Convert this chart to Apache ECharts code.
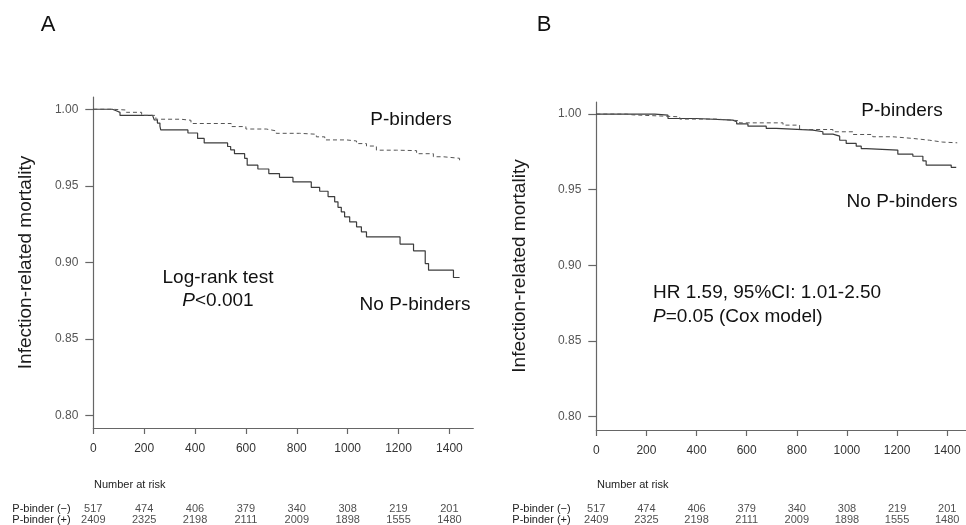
<!DOCTYPE html>
<html>
<head>
<meta charset="utf-8">
<script src="https://cdn.jsdelivr.net/npm/echarts@6/dist/echarts.min.js"></script>
<style>
  html, body { margin: 0; padding: 0; background: #fff; }
  #chart { width: 966px; height: 525px; }
</style>
</head>
<body>
<div id="chart"></div>
<script>
const FONT = '"Liberation Sans", Arial, sans-serif'

// axis ticks
const timeTicks = [0, 200, 400, 600, 800, 1000, 1200, 1400]
const survivalTicks = [0.80, 0.85, 0.90, 0.95, 1.00]

// number at risk
const riskGroups = ['P-binder (−)', 'P-binder (+)']
const atRiskNeg = [517, 474, 406, 379, 340, 308, 219, 201]
const atRiskPos = [2409, 2325, 2198, 2111, 2009, 1898, 1555, 1480]

// panel A: unadjusted Kaplan-Meier (time in days, survival)
const aNoBinders = [
  [0, 1.0], [75, 0.999], [90, 0.998], [105, 0.996], [233, 0.995], [240, 0.993],
  [252, 0.991], [262, 0.989], [265, 0.9865], [372, 0.9845], [410, 0.981], [436, 0.978],
  [528, 0.9757], [540, 0.9735], [555, 0.971], [595, 0.968], [605, 0.9635], [647, 0.961],
  [690, 0.958], [732, 0.9555], [785, 0.9526], [857, 0.949], [890, 0.9465], [923, 0.943],
  [949, 0.9396], [962, 0.936], [975, 0.933], [988, 0.9298], [1008, 0.9265], [1035, 0.9233],
  [1054, 0.92], [1074, 0.9167], [1206, 0.912], [1259, 0.9076], [1305, 0.8993], [1318, 0.895],
  [1416, 0.8902], [1440, 0.8902]
]
const aBinders = [
  [0, 1.0], [75, 0.9995], [130, 0.998], [190, 0.996], [246, 0.9935], [344, 0.9928],
  [384, 0.9907], [542, 0.9887], [600, 0.9871], [680, 0.9859], [719, 0.9843], [811, 0.9837],
  [877, 0.982], [910, 0.98], [995, 0.9793], [1035, 0.9776], [1074, 0.976], [1113, 0.9733],
  [1192, 0.973], [1271, 0.971], [1337, 0.969], [1376, 0.968], [1440, 0.9657]
]

// panel B: Cox-adjusted curves
const bNoBinders = [
  [0, 1.0], [233, 0.9993], [286, 0.9971], [399, 0.996], [545, 0.9949], [560, 0.9935],
  [605, 0.992], [678, 0.9905], [718, 0.9894], [864, 0.9883], [904, 0.9867], [944, 0.9854],
  [971, 0.9827], [997, 0.9806], [1037, 0.9788], [1057, 0.9772], [1077, 0.9762], [1203, 0.9735],
  [1263, 0.9721], [1303, 0.969], [1316, 0.9663], [1416, 0.9648], [1436, 0.9648]
]
const bBinders = [
  [0, 1.0], [120, 0.9995], [146, 0.9982], [333, 0.9967], [479, 0.9956], [572, 0.9942],
  [745, 0.9927], [811, 0.9898], [944, 0.9883], [1024, 0.9865], [1103, 0.985], [1183, 0.9839],
  [1263, 0.9827], [1330, 0.9815], [1380, 0.981], [1440, 0.9806]
]

const panels = [
  { left: 93.3, width: 380, xMax: 1494, top: 97, height: 331, yMin: 0.792, yMax: 1.008, nameGap: 58, rowMargin: 81, solid: aNoBinders, dashed: aBinders },
  { left: 596.3, width: 370, xMax: 1475, top: 102, height: 328, yMin: 0.791, yMax: 1.008, nameGap: 67, rowMargin: 84, solid: bNoBinders, dashed: bBinders }
]

const axisColor = '#666'
const grid = []
const xAxis = []
const yAxis = []
const series = []

panels.forEach((p, i) => {
  const g = i * 2
  grid.push({ left: p.left, width: p.width, top: p.top, height: p.height })
  grid.push({ left: p.left, width: p.width, top: 503.5, height: 23 })

  xAxis.push({
    type: 'value', gridIndex: g, min: 0, max: p.xMax,
    axisLine: { lineStyle: { color: axisColor, width: 1.2 } },
    axisTick: { customValues: timeTicks, length: 6, lineStyle: { color: axisColor, width: 1.2 } },
    axisLabel: { customValues: timeTicks, margin: 15, color: '#333', fontSize: 12, fontFamily: FONT,
      formatter: v => String(v) },
    splitLine: { show: false }
  })
  xAxis.push({
    type: 'value', gridIndex: g + 1, min: 0, max: p.xMax, show: false
  })

  yAxis.push({
    type: 'value', gridIndex: g, min: p.yMin, max: p.yMax,
    name: 'Infection-related mortality', nameLocation: 'middle', nameGap: p.nameGap,
    nameTextStyle: { fontSize: 19, color: '#1a1a1a', fontFamily: FONT },
    axisLine: { show: true, lineStyle: { color: axisColor, width: 1.2 } },
    axisTick: { show: true, customValues: survivalTicks, length: 8, lineStyle: { color: axisColor, width: 1.2 } },
    axisLabel: { customValues: survivalTicks, margin: 15, color: '#555', fontSize: 12, fontFamily: FONT,
      formatter: v => v.toFixed(2) },
    splitLine: { show: false }
  })
  yAxis.push({
    type: 'category', gridIndex: g + 1, data: riskGroups, inverse: true,
    axisLine: { show: false }, axisTick: { show: false },
    axisLabel: { interval: 0, hideOverlap: false, align: 'left', margin: p.rowMargin, color: '#222', fontSize: 11, fontFamily: FONT }
  })

  series.push({
    type: 'line', xAxisIndex: g, yAxisIndex: g, data: p.solid, step: 'end',
    symbol: 'none', lineStyle: { color: '#3c3c3c', width: 1.2 }
  })
  series.push({
    type: 'line', xAxisIndex: g, yAxisIndex: g, data: p.dashed, step: 'end',
    symbol: 'none', lineStyle: { color: '#555', width: 1, type: [4, 3] }
  })

  const rows = []
  timeTicks.forEach((t, k) => {
    rows.push([t, riskGroups[0], atRiskNeg[k]])
    rows.push([t, riskGroups[1], atRiskPos[k]])
  })
  series.push({
    type: 'scatter', xAxisIndex: g + 1, yAxisIndex: g + 1, data: rows,
    symbolSize: 1, itemStyle: { color: 'rgba(0,0,0,0)' },
    label: { show: true, position: 'inside', formatter: d => d.value[2], color: '#222', fontSize: 11, fontFamily: FONT }
  })
})

function txt(text, x, y, size, align, extra) {
  return {
    type: 'text', x, y, silent: true,
    style: Object.assign({
      text, fontSize: size, fontFamily: FONT, fill: '#111', align: align || 'center', verticalAlign: 'middle'
    }, extra || {})
  }
}
const italic = { rich: { i: { fontStyle: 'italic', fontSize: 19, fontFamily: FONT, fill: '#111' } } }

const graphic = [
  txt('A', 48, 25, 22),
  txt('B', 544, 25, 22),
  txt('P-binders', 411, 120, 19),
  txt('No P-binders', 415, 305, 19),
  txt('Log-rank test', 218, 278, 19),
  txt('{i|P}<0.001', 218, 301, 19, 'center', italic),
  txt('Number at risk', 94, 485, 11, 'left', { fill: '#222' }),
  txt('P-binders', 902, 111, 19),
  txt('No P-binders', 902, 202, 19),
  txt('HR 1.59, 95%CI: 1.01-2.50', 653, 293, 19, 'left'),
  txt('{i|P}=0.05 (Cox model)', 653, 317, 19, 'left', italic),
  txt('Number at risk', 597, 485, 11, 'left', { fill: '#222' })
]

const chart = echarts.init(document.getElementById('chart'))
chart.setOption({
  animation: false,
  backgroundColor: '#fff',
  textStyle: { fontFamily: FONT },
  grid, xAxis, yAxis, series, graphic
})
</script>
</body>
</html>
